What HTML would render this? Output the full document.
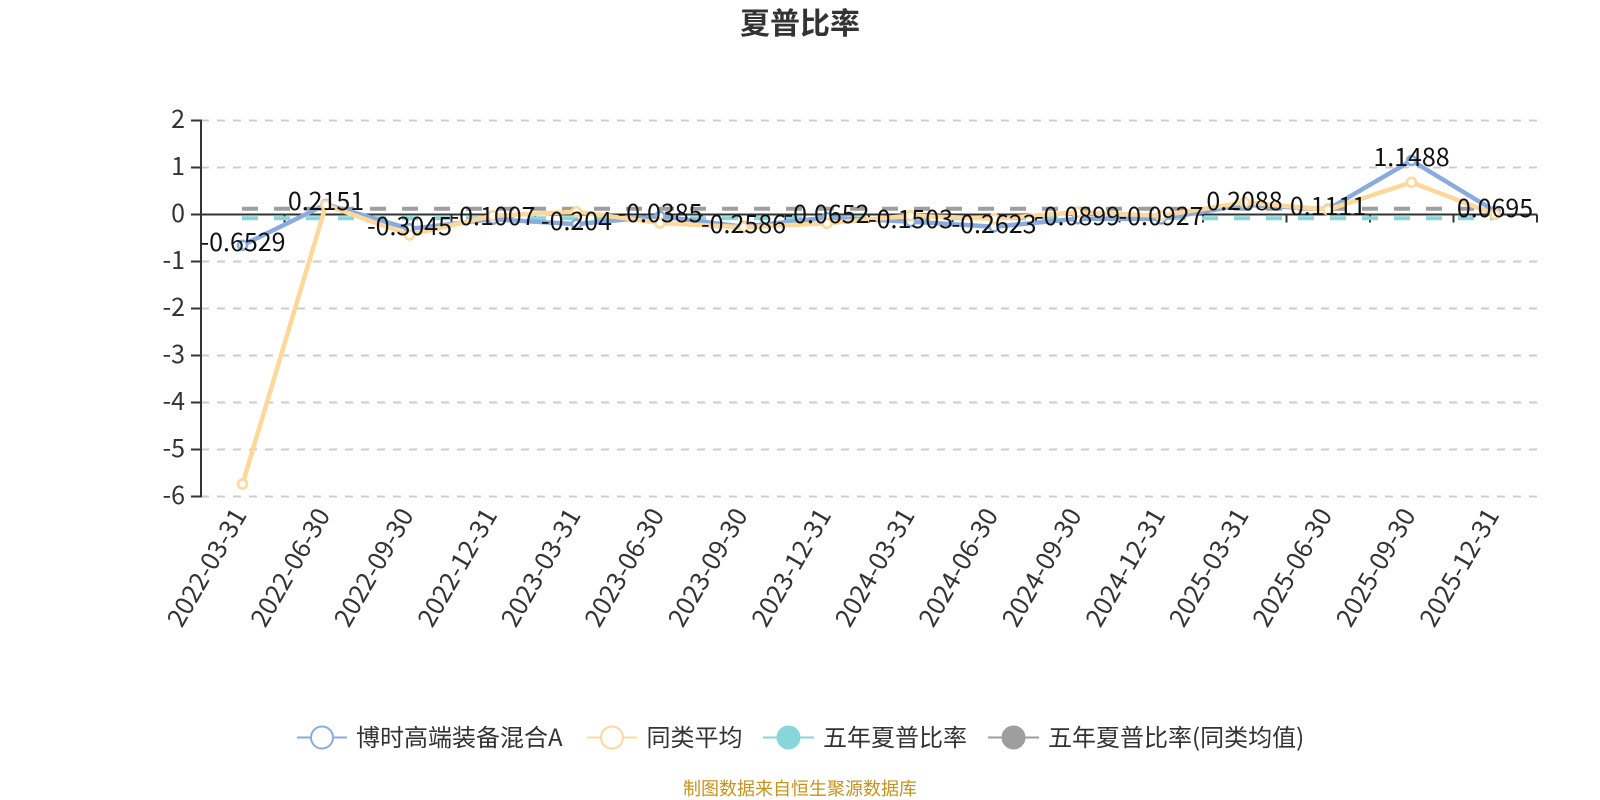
<!DOCTYPE html>
<html><head><meta charset="utf-8"><style>
html,body{margin:0;padding:0;background:#fff;width:1600px;height:800px;overflow:hidden}
svg{display:block}
text{font-family:"Noto Sans CJK SC","Liberation Sans",sans-serif}
</style></head><body>
<svg width="1600" height="800" viewBox="0 0 1600 800" xmlns="http://www.w3.org/2000/svg">
<text x="800" y="34" font-size="30" font-weight="700" fill="#333" text-anchor="middle">夏普比率</text>
<g stroke="#ccc" stroke-width="2" stroke-dasharray="8 8" fill="none">
<path d="M201 120.5H1537M201 167.5H1537M201 261.5H1537M201 308.5H1537M201 355.5H1537M201 402.5H1537M201 449.5H1537M201 496.5H1537"/>
</g>
<g stroke="#333" stroke-width="2" fill="none">
<path d="M201 119.5V497.5"/>
<path d="M191 120.5H201M191 167.5H201M191 214.5H201M191 261.5H201M191 308.5H201M191 355.5H201M191 402.5H201M191 449.5H201M191 496.5H201"/>
<path d="M200 214.500H1537"/>
<path d="M201 214.500v8M284.500 214.500v8M368 214.500v8M451.500 214.500v8M535 214.500v8M618.500 214.500v8M702 214.500v8M785.500 214.500v8M869 214.500v8M952.500 214.500v8M1036 214.500v8M1119.500 214.500v8M1203 214.500v8M1286.500 214.500v8M1370 214.500v8M1453.500 214.500v8M1537 214.500v8"/>
</g>
<g font-size="25" fill="#333" text-anchor="end">
<text x="185" y="128">2</text><text x="185" y="175">1</text><text x="185" y="222">0</text><text x="185" y="269">-1</text><text x="185" y="316">-2</text><text x="185" y="363">-3</text><text x="185" y="410">-4</text><text x="185" y="457">-5</text><text x="185" y="504">-6</text>
</g>
<path d="M242 208.700H1494" stroke="#9e9e9e" stroke-width="4" stroke-dasharray="16 16" fill="none"/>
<path d="M242 218.300H1494" stroke="#87d6d9" stroke-width="4" stroke-dasharray="16 16" fill="none"/>
<polyline fill="none" stroke="#8aabdf" stroke-width="4.5" stroke-linejoin="round" points="242.5,245.2 326,204.4 409.5,228.8 493,219.2 576.5,224.1 660,216.3 743.500,226.7 827,217.6 910.500,221.600 994,226.800 1077.500,218.700 1161,218.900 1244.500,204.700 1328,209.300 1411.500,160.500 1495,211.200"/>
<g fill="#fff" stroke="#8aabdf" stroke-width="2.500">
<circle cx="242.5" cy="245.2" r="4.500"/><circle cx="326" cy="204.4" r="4.500"/><circle cx="409.5" cy="228.8" r="4.500"/><circle cx="493" cy="219.2" r="4.500"/><circle cx="576.5" cy="224.1" r="4.500"/><circle cx="660" cy="216.3" r="4.500"/><circle cx="743.5" cy="226.7" r="4.500"/><circle cx="827" cy="217.6" r="4.500"/><circle cx="910.5" cy="221.6" r="4.500"/><circle cx="994" cy="226.8" r="4.500"/><circle cx="1077.5" cy="218.7" r="4.500"/><circle cx="1161" cy="218.9" r="4.500"/><circle cx="1244.5" cy="204.7" r="4.500"/><circle cx="1328" cy="209.3" r="4.500"/><circle cx="1411.5" cy="160.5" r="4.500"/><circle cx="1495" cy="211.2" r="4.500"/>
</g>
<polyline fill="none" stroke="#fdd89a" stroke-width="4.5" stroke-linejoin="round" points="242.5,484 326,205 409.5,235 493,215.7 576.5,211.700 660,223 743.500,227.300 827,223.300 910.500,215.700 994,218.700 1077.500,212.300 1161,215.700 1244.500,202.300 1328,209.700 1411.500,182.300 1495,214.300"/>
<g fill="#fff" stroke="#fdd89a" stroke-width="2.500">
<circle cx="242.5" cy="484" r="4.500"/><circle cx="326" cy="205" r="4.500"/><circle cx="409.5" cy="235" r="4.500"/><circle cx="493" cy="215.7" r="4.500"/><circle cx="576.5" cy="211.7" r="4.500"/><circle cx="660" cy="223" r="4.500"/><circle cx="743.5" cy="227.3" r="4.500"/><circle cx="827" cy="223.3" r="4.500"/><circle cx="910.5" cy="215.7" r="4.500"/><circle cx="994" cy="218.7" r="4.500"/><circle cx="1077.5" cy="212.3" r="4.500"/><circle cx="1161" cy="215.7" r="4.500"/><circle cx="1244.5" cy="202.3" r="4.500"/><circle cx="1328" cy="209.7" r="4.500"/><circle cx="1411.5" cy="182.3" r="4.500"/><circle cx="1495" cy="214.3" r="4.500"/>
</g>
<g font-size="25" fill="#111" text-anchor="middle">
<text x="243" y="251">-0.6529</text><text x="326" y="210">0.2151</text><text x="409.500" y="235">-0.3045</text><text x="493" y="225">-0.1007</text><text x="576.500" y="230">-0.204</text><text x="660" y="222">-0.0385</text><text x="743.500" y="233">-0.2586</text><text x="827" y="223">-0.0652</text><text x="910.500" y="228">-0.1503</text><text x="994" y="233">-0.2623</text><text x="1077.500" y="225">-0.0899</text><text x="1161" y="225">-0.0927</text><text x="1244.500" y="210">0.2088</text><text x="1328" y="215">0.1111</text><text x="1411.500" y="166">1.1488</text><text x="1495" y="217">0.0695</text>
</g>
<g font-size="25.6" fill="#333" text-anchor="end">
<text transform="translate(247.500 515) rotate(-60)">2022-03-31</text>
<text transform="translate(331 515) rotate(-60)">2022-06-30</text>
<text transform="translate(414.500 515) rotate(-60)">2022-09-30</text>
<text transform="translate(498 515) rotate(-60)">2022-12-31</text>
<text transform="translate(581.500 515) rotate(-60)">2023-03-31</text>
<text transform="translate(665 515) rotate(-60)">2023-06-30</text>
<text transform="translate(748.500 515) rotate(-60)">2023-09-30</text>
<text transform="translate(832 515) rotate(-60)">2023-12-31</text>
<text transform="translate(915.500 515) rotate(-60)">2024-03-31</text>
<text transform="translate(999 515) rotate(-60)">2024-06-30</text>
<text transform="translate(1082.500 515) rotate(-60)">2024-09-30</text>
<text transform="translate(1166 515) rotate(-60)">2024-12-31</text>
<text transform="translate(1249.500 515) rotate(-60)">2025-03-31</text>
<text transform="translate(1333 515) rotate(-60)">2025-06-30</text>
<text transform="translate(1416.500 515) rotate(-60)">2025-09-30</text>
<text transform="translate(1500 515) rotate(-60)">2025-12-31</text>
</g>
<g stroke-width="2">
<path d="M297 737.500H347" stroke="#8aabdf"/><circle cx="322" cy="737.500" r="11" fill="#fff" stroke="#8aabdf"/>
<path d="M587 737.500H637" stroke="#fdd89a"/><circle cx="612" cy="737.500" r="11" fill="#fff" stroke="#fdd89a"/>
<path d="M763 737.500H814" stroke="#87d6d9"/><circle cx="788.500" cy="737.500" r="12" fill="#87d6d9" stroke="none"/>
<path d="M988 737.500H1039" stroke="#9e9e9e"/><circle cx="1013.500" cy="737.500" r="12" fill="#9e9e9e" stroke="none"/>
</g>
<g font-size="24" fill="#333">
<text x="356" y="746">博时高端装备混合A</text><text x="646.500" y="746">同类平均</text><text x="823" y="746">五年夏普比率</text><text x="1048" y="746">五年夏普比率(同类均值)</text>
</g>
<text x="800" y="795" font-size="18" fill="#c8921a" text-anchor="middle">制图数据来自恒生聚源数据库</text>
</svg>
</body></html>
